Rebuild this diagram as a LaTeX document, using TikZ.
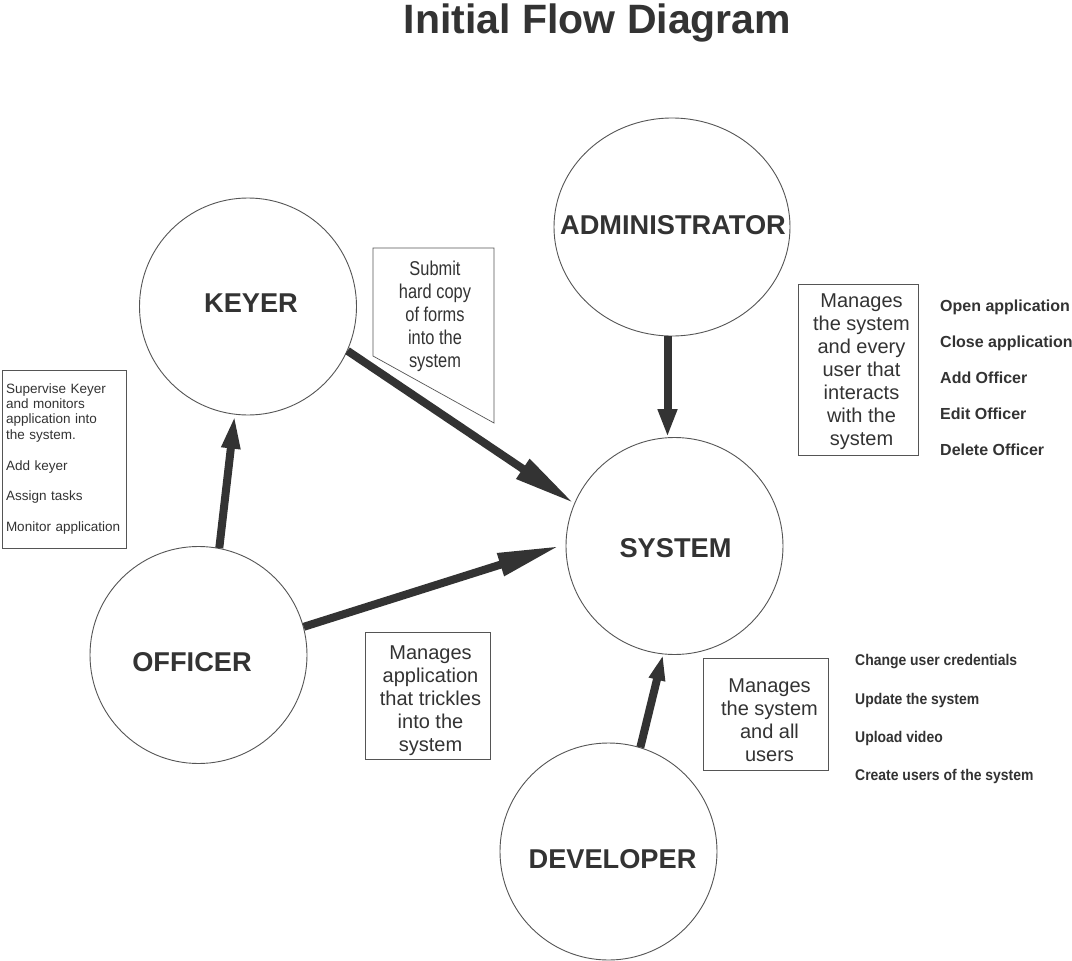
\documentclass[tikz,border=0pt]{standalone}
\usepackage{fontspec}
\setmainfont{Liberation Sans}
\newfontfamily\narrowfont[FakeStretch=0.82]{Liberation Sans}
\newfontfamily\condfont[FakeStretch=0.9]{Liberation Sans}
\usetikzlibrary{arrows.meta,shapes.geometric}
\definecolor{ink}{HTML}{333333}
\definecolor{edgegray}{HTML}{555555}
\begin{document}
\begin{tikzpicture}[x=1pt,y=-1pt,
  actor/.style={circle,draw=edgegray,line width=0.9pt,fill=white,minimum size=217pt,inner sep=0pt},
  adminshape/.style={ellipse,draw=edgegray,line width=0.9pt,fill=white,minimum width=236pt,minimum height=218pt,inner sep=0pt},
  actorlab/.style={font=\bfseries\fontsize{27.2}{31}\selectfont,text=ink,inner sep=0pt},
  notebox/.style={draw=edgegray,line width=0.8pt,inner sep=0pt},
  notetext/.style={font=\fontsize{20}{23}\selectfont,text=ink,align=center,inner sep=0pt},
  item/.style={anchor=base west,font=\bfseries\fontsize{16}{19}\selectfont,text=ink,inner sep=0pt},
  ditem/.style={anchor=base west,font=\condfont\bfseries\fontsize{15.5}{18}\selectfont,text=ink,inner sep=0pt},
  flowarrow/.style 2 args={draw=ink,line width=8pt,-{Triangle[length=#1,width=#2]}}
]
\fill[white] (0,0) rectangle (1072,961);
\useasboundingbox (0,0) rectangle (1072,961);

% title
\node[anchor=base,font=\bfseries\fontsize{41}{48}\selectfont,text=ink,inner sep=0pt] (title) at (597.5,33) {Initial Flow Diagram};

% actors
\node[actor] (keyer) at (248,306.5) {};
\node[adminshape] (admin) at (672,227) {};
\node[actor] (system) at (674.5,546) {};
\node[actor] (officer) at (198.5,655) {};
\node[actor] (developer) at (608.5,851.5) {};

\node[actorlab] (keyerlab) at (251,303) {KEYER};
\node[actorlab] (adminlab) at (673,225) {ADMINISTRATOR};
\node[actorlab] (systemlab) at (675.5,548) {SYSTEM};
\node[actorlab] (officerlab) at (192,662) {OFFICER};
\node[actorlab] (developerlab) at (612.5,859) {DEVELOPER};

% flows
\draw[flowarrow={62pt}{22pt}] (keyer.-24) -- (system.157);
\draw[flowarrow={62pt}{22pt}] (officer.15) -- ([xshift=-6pt]system.180);
\draw[flowarrow={28pt}{18pt}] ([xshift=-4.5pt]admin.south) -- ([xshift=-7pt]system.north);
\draw[flowarrow={34pt}{17pt}] (officer.79) -- (keyer.263);
\draw[flowarrow={26pt}{15pt}] (developer.73) -- (system.264);

% callout for keyer
\draw[draw=edgegray,line width=0.7pt] (373,248) -- (494,248) -- (494,423) -- (373,356) -- cycle;
\node[font=\narrowfont\fontsize{20}{23}\selectfont,text=ink,align=center,inner sep=0pt] (submit) at (435,316) {Submit\\hard copy\\of forms\\into the\\system};

% officer note
\node[draw=edgegray,line width=0.8pt,minimum height=178pt,text width=116pt,inner xsep=4pt,inner ysep=0pt,align=left,font=\fontsize{13.5}{15.4}\selectfont,text=ink] (officernote) at (64,459)
  {Supervise Keyer\\and monitors\\application into\\the system.\\[15.4pt]Add keyer\\[15.4pt]Assign tasks\\[15.4pt]Monitor application};

% administrator note
\node[notebox,minimum width=120pt,minimum height=171pt] (adminnote) at (858,369.5) {};
\node[notetext] (adminnotetext) at ([xshift=3.5pt,yshift=-2.5pt]adminnote.center)
  {Manages\\the system\\and every\\user that\\interacts\\with the\\system};

% flow note
\node[notebox,minimum width=125pt,minimum height=127pt] (flownote) at (427.5,695.5) {};
\node[notetext] (flownotetext) at ([xshift=3pt,yshift=-5pt]flownote.center)
  {Manages\\application\\that trickles\\into the\\system};

% developer note
\node[notebox,minimum width=125pt,minimum height=112pt] (devnote) at (765.5,714) {};
\node[notetext] (devnotetext) at ([xshift=4pt,yshift=-6pt]devnote.center)
  {Manages\\the system\\and all\\users};

% administrator tasks
\node[item] (a1) at (940,311) {Open application};
\node[item] (a2) at (940,347) {Close application};
\node[item] (a3) at (940,383) {Add Officer};
\node[item] (a4) at (940,419) {Edit Officer};
\node[item] (a5) at (940,455) {Delete Officer};

% developer tasks
\node[ditem] (d1) at (855,665.5) {Change user credentials};
\node[ditem] (d2) at (855,704.5) {Update the system};
\node[ditem] (d3) at (855,742.5) {Upload video};
\node[ditem] (d4) at (855,780.5) {Create users of the system};
\end{tikzpicture}
\end{document}
